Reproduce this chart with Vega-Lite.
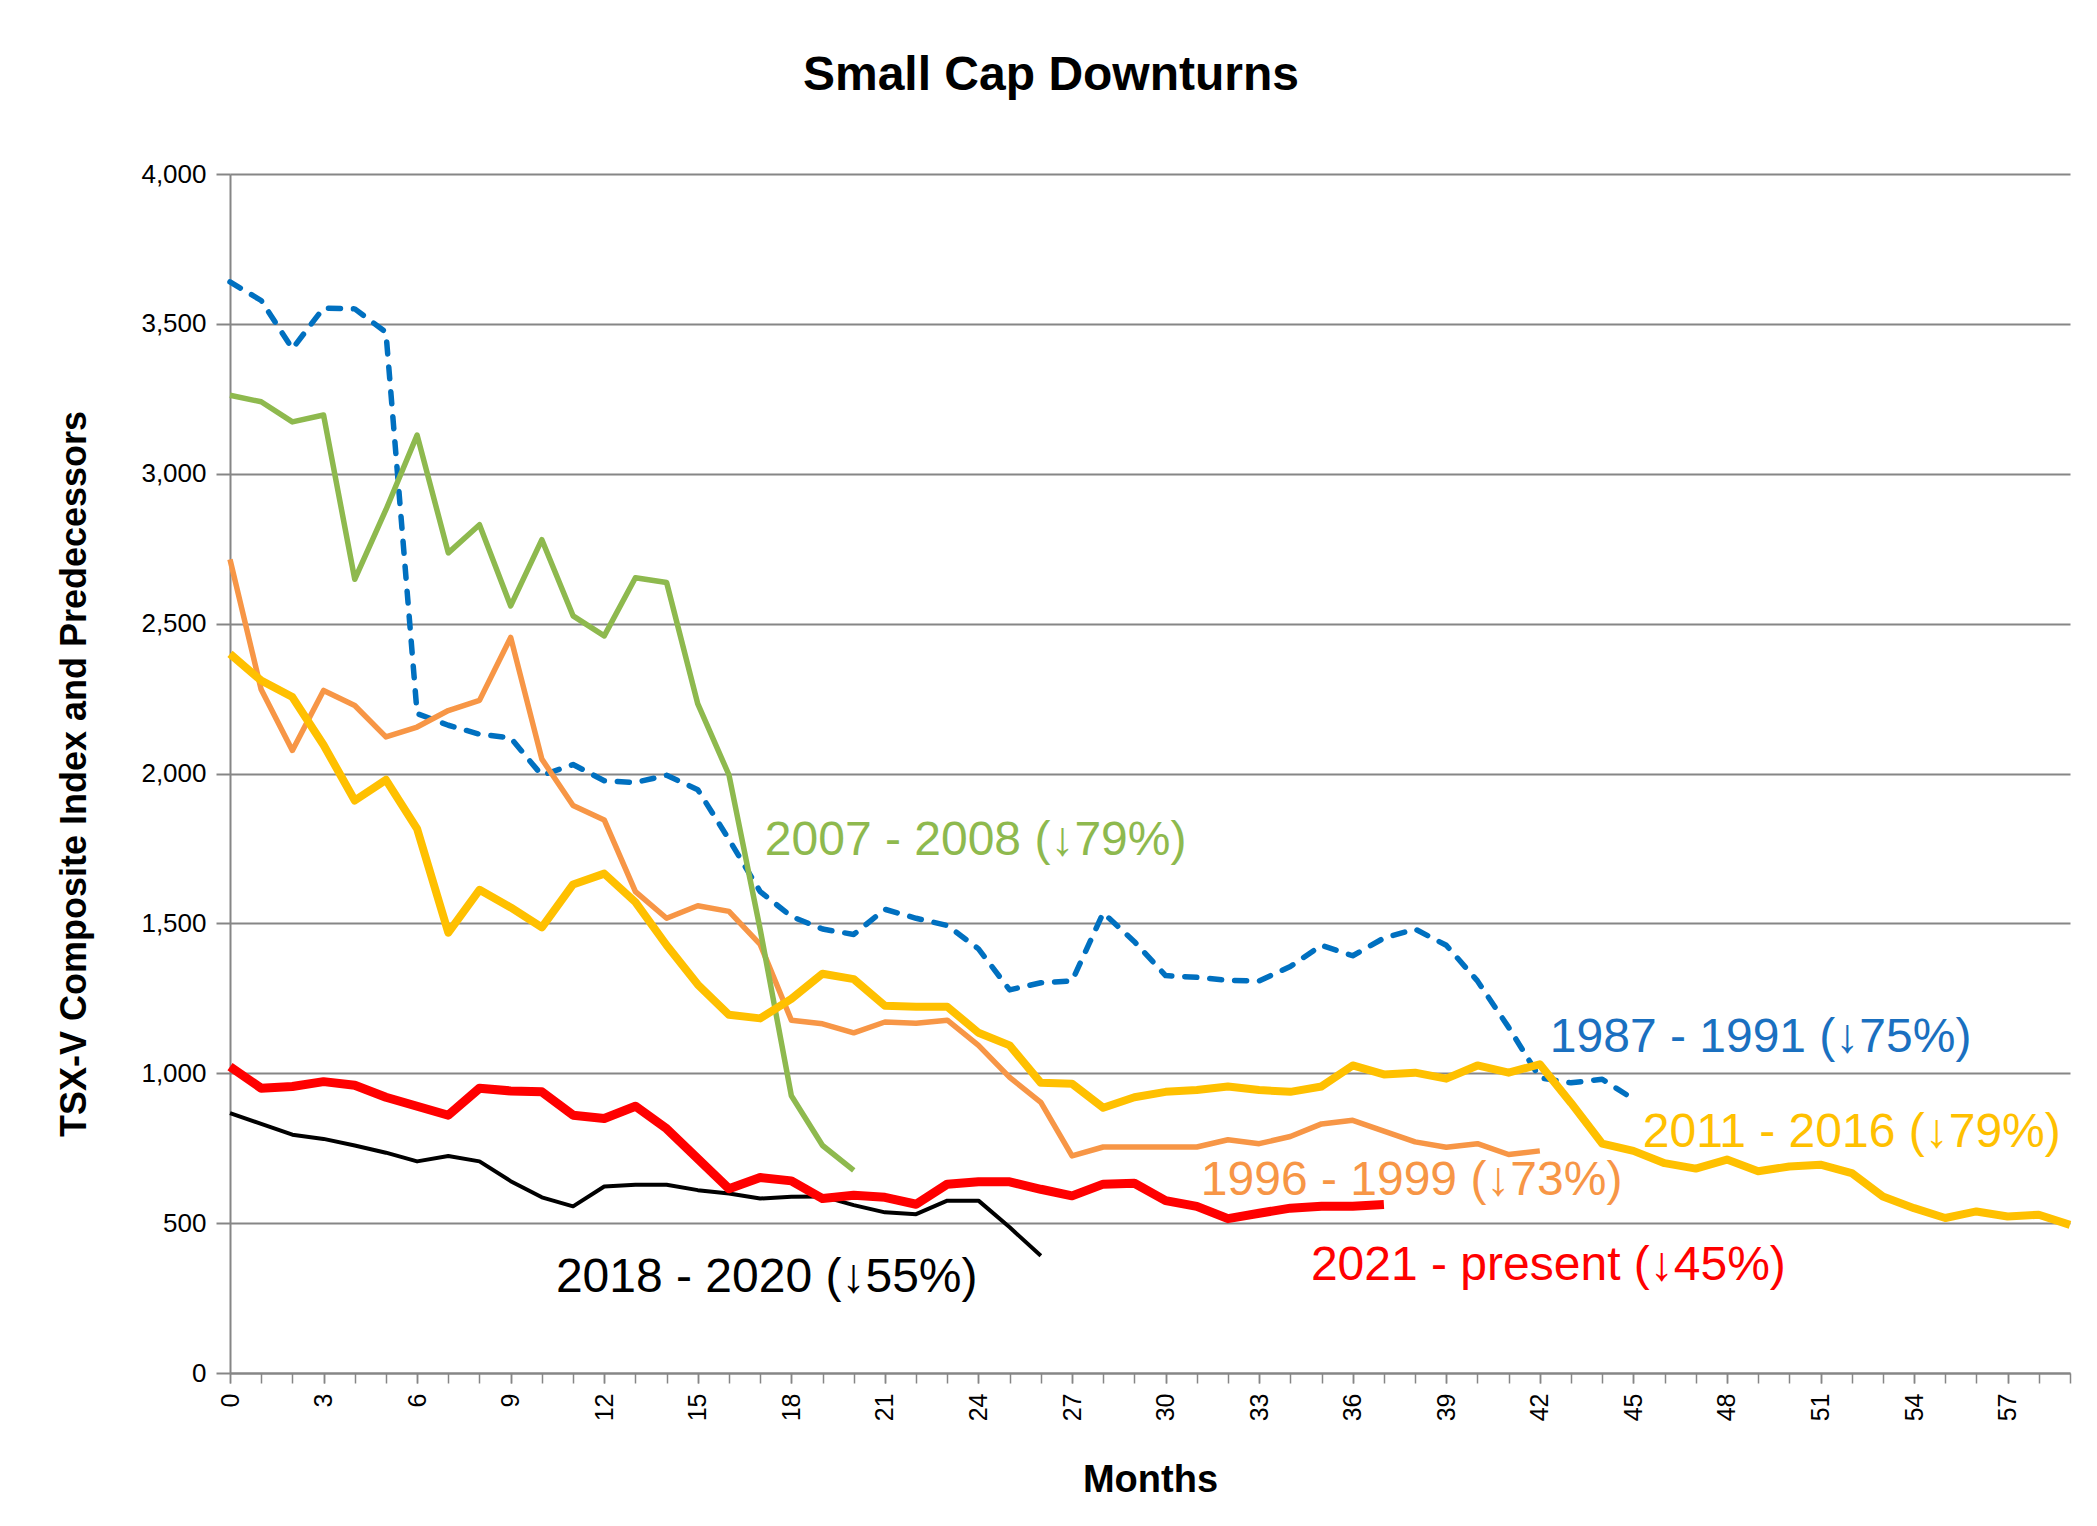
{
  "$schema": "https://vega.github.io/schema/vega-lite/v6.json",
  "width": 1840,
  "height": 1199,
  "autosize": {"type": "none"},
  "padding": {"left": 230, "top": 174, "right": 27, "bottom": 153},
  "background": "#ffffff",
  "config": {"view": {"stroke": null}, "font": "Liberation Sans"},
  "title": {"text": "Small Cap Downturns", "fontSize": 48, "font": "Liberation Sans", "fontWeight": "bold", "color": "#000000", "anchor": "middle", "dx": -99, "offset": 23, "baseline": "alphabetic"},
  "resolve": {"axis": {"x": "independent"}},
  "datasets": {
    "s1987": [
      {"month": 0, "value": 3640}, {"month": 1, "value": 3578}, {"month": 2, "value": 3417}, {"month": 3, "value": 3553}, {"month": 4, "value": 3550}, {"month": 5, "value": 3472}, {"month": 6, "value": 2200}, {"month": 7, "value": 2161}, {"month": 8, "value": 2131}, {"month": 9, "value": 2119}, {"month": 10, "value": 1994}, {"month": 11, "value": 2030}, {"month": 12, "value": 1976}, {"month": 13, "value": 1970}, {"month": 14, "value": 1994}, {"month": 15, "value": 1946}, {"month": 16, "value": 1780}, {"month": 17, "value": 1606}, {"month": 18, "value": 1523}, {"month": 19, "value": 1481}, {"month": 20, "value": 1463}, {"month": 21, "value": 1547}, {"month": 22, "value": 1517}, {"month": 23, "value": 1493}, {"month": 24, "value": 1415}, {"month": 25, "value": 1278}, {"month": 26, "value": 1302}, {"month": 27, "value": 1308}, {"month": 28, "value": 1535}, {"month": 29, "value": 1439}, {"month": 30, "value": 1326}, {"month": 31, "value": 1320}, {"month": 32, "value": 1310}, {"month": 33, "value": 1308}, {"month": 34, "value": 1356}, {"month": 35, "value": 1427}, {"month": 36, "value": 1392}, {"month": 37, "value": 1451}, {"month": 38, "value": 1481}, {"month": 39, "value": 1427}, {"month": 40, "value": 1308}, {"month": 41, "value": 1153}, {"month": 42, "value": 985}, {"month": 43, "value": 968}, {"month": 44, "value": 980}, {"month": 45, "value": 914}
    ],
    "s1996": [
      {"month": 0, "value": 2714}, {"month": 1, "value": 2280}, {"month": 2, "value": 2077}, {"month": 3, "value": 2277}, {"month": 4, "value": 2227}, {"month": 5, "value": 2122}, {"month": 6, "value": 2155}, {"month": 7, "value": 2210}, {"month": 8, "value": 2244}, {"month": 9, "value": 2454}, {"month": 10, "value": 2048}, {"month": 11, "value": 1893}, {"month": 12, "value": 1845}, {"month": 13, "value": 1606}, {"month": 14, "value": 1517}, {"month": 15, "value": 1559}, {"month": 16, "value": 1540}, {"month": 17, "value": 1430}, {"month": 18, "value": 1177}, {"month": 19, "value": 1165}, {"month": 20, "value": 1135}, {"month": 21, "value": 1171}, {"month": 22, "value": 1167}, {"month": 23, "value": 1177}, {"month": 24, "value": 1093}, {"month": 25, "value": 986}, {"month": 26, "value": 903}, {"month": 27, "value": 724}, {"month": 28, "value": 754}, {"month": 29, "value": 754}, {"month": 30, "value": 754}, {"month": 31, "value": 754}, {"month": 32, "value": 778}, {"month": 33, "value": 765}, {"month": 34, "value": 789}, {"month": 35, "value": 831}, {"month": 36, "value": 843}, {"month": 37, "value": 807}, {"month": 38, "value": 771}, {"month": 39, "value": 753}, {"month": 40, "value": 765}, {"month": 41, "value": 729}, {"month": 42, "value": 741}
    ],
    "s2007": [
      {"month": 0, "value": 3262}, {"month": 1, "value": 3240}, {"month": 2, "value": 3173}, {"month": 3, "value": 3196}, {"month": 4, "value": 2648}, {"month": 5, "value": 2880}, {"month": 6, "value": 3129}, {"month": 7, "value": 2736}, {"month": 8, "value": 2830}, {"month": 9, "value": 2559}, {"month": 10, "value": 2780}, {"month": 11, "value": 2526}, {"month": 12, "value": 2459}, {"month": 13, "value": 2653}, {"month": 14, "value": 2637}, {"month": 15, "value": 2232}, {"month": 16, "value": 1995}, {"month": 17, "value": 1480}, {"month": 18, "value": 925}, {"month": 19, "value": 759}, {"month": 20, "value": 676}
    ],
    "s2011": [
      {"month": 0, "value": 2399}, {"month": 1, "value": 2310}, {"month": 2, "value": 2255}, {"month": 3, "value": 2095}, {"month": 4, "value": 1910}, {"month": 5, "value": 1979}, {"month": 6, "value": 1815}, {"month": 7, "value": 1469}, {"month": 8, "value": 1612}, {"month": 9, "value": 1553}, {"month": 10, "value": 1487}, {"month": 11, "value": 1630}, {"month": 12, "value": 1666}, {"month": 13, "value": 1571}, {"month": 14, "value": 1427}, {"month": 15, "value": 1296}, {"month": 16, "value": 1195}, {"month": 17, "value": 1183}, {"month": 18, "value": 1248}, {"month": 19, "value": 1332}, {"month": 20, "value": 1314}, {"month": 21, "value": 1225}, {"month": 22, "value": 1222}, {"month": 23, "value": 1222}, {"month": 24, "value": 1135}, {"month": 25, "value": 1093}, {"month": 26, "value": 968}, {"month": 27, "value": 965}, {"month": 28, "value": 885}, {"month": 29, "value": 920}, {"month": 30, "value": 938}, {"month": 31, "value": 944}, {"month": 32, "value": 956}, {"month": 33, "value": 944}, {"month": 34, "value": 938}, {"month": 35, "value": 956}, {"month": 36, "value": 1026}, {"month": 37, "value": 996}, {"month": 38, "value": 1002}, {"month": 39, "value": 982}, {"month": 40, "value": 1026}, {"month": 41, "value": 1002}, {"month": 42, "value": 1030}, {"month": 43, "value": 901}, {"month": 44, "value": 765}, {"month": 45, "value": 741}, {"month": 46, "value": 700}, {"month": 47, "value": 682}, {"month": 48, "value": 712}, {"month": 49, "value": 673}, {"month": 50, "value": 689}, {"month": 51, "value": 695}, {"month": 52, "value": 667}, {"month": 53, "value": 589}, {"month": 54, "value": 550}, {"month": 55, "value": 517}, {"month": 56, "value": 539}, {"month": 57, "value": 522}, {"month": 58, "value": 528}, {"month": 59, "value": 494}
    ],
    "s2018": [
      {"month": 0, "value": 867}, {"month": 1, "value": 831}, {"month": 2, "value": 795}, {"month": 3, "value": 781}, {"month": 4, "value": 759}, {"month": 5, "value": 735}, {"month": 6, "value": 706}, {"month": 7, "value": 724}, {"month": 8, "value": 706}, {"month": 9, "value": 640}, {"month": 10, "value": 586}, {"month": 11, "value": 556}, {"month": 12, "value": 622}, {"month": 13, "value": 628}, {"month": 14, "value": 628}, {"month": 15, "value": 610}, {"month": 16, "value": 599}, {"month": 17, "value": 582}, {"month": 18, "value": 588}, {"month": 19, "value": 589}, {"month": 20, "value": 560}, {"month": 21, "value": 536}, {"month": 22, "value": 530}, {"month": 23, "value": 575}, {"month": 24, "value": 575}, {"month": 25, "value": 486}, {"month": 26, "value": 391}
    ],
    "s2021": [
      {"month": 0, "value": 1022}, {"month": 1, "value": 950}, {"month": 2, "value": 956}, {"month": 3, "value": 972}, {"month": 4, "value": 960}, {"month": 5, "value": 920}, {"month": 6, "value": 890}, {"month": 7, "value": 860}, {"month": 8, "value": 950}, {"month": 9, "value": 941}, {"month": 10, "value": 938}, {"month": 11, "value": 860}, {"month": 12, "value": 849}, {"month": 13, "value": 890}, {"month": 14, "value": 815}, {"month": 15, "value": 715}, {"month": 16, "value": 615}, {"month": 17, "value": 652}, {"month": 18, "value": 641}, {"month": 19, "value": 582}, {"month": 20, "value": 593}, {"month": 21, "value": 586}, {"month": 22, "value": 563}, {"month": 23, "value": 630}, {"month": 24, "value": 638}, {"month": 25, "value": 638}, {"month": 26, "value": 613}, {"month": 27, "value": 591}, {"month": 28, "value": 630}, {"month": 29, "value": 633}, {"month": 30, "value": 575}, {"month": 31, "value": 556}, {"month": 32, "value": 515}, {"month": 33, "value": 533}, {"month": 34, "value": 550}, {"month": 35, "value": 556}, {"month": 36, "value": 556}, {"month": 37, "value": 562}
    ]
  },
  "layer": [
    {
      "data": {"name": "s1987"},
      "mark": {"type": "line", "color": "#0070C0", "strokeWidth": 5.5, "strokeDash": [12, 13], "strokeCap": "round", "strokeJoin": "round"},
      "encoding": {
        "x": {"field": "month", "type": "quantitative", "scale": {"domain": [0, 59], "nice": false, "zero": false},
          "axis": {"orient": "bottom", "title": "Months", "titleFontSize": 38, "titleFontWeight": "bold", "titleColor": "#000000", "titlePadding": 41,
            "values": [0, 3, 6, 9, 12, 15, 18, 21, 24, 27, 30, 33, 36, 39, 42, 45, 48, 51, 54, 57],
            "labelAngle": -90, "labelFontSize": 25, "labelColor": "#000000", "labelPadding": 10,
            "labelOverlap": false, "labelFlush": false, "tickSize": 10, "tickColor": "#868686", "tickWidth": 1.5, "domainColor": "#868686", "domainWidth": 2, "grid": false}},
        "y": {"field": "value", "type": "quantitative", "scale": {"domain": [0, 4000], "nice": false},
          "axis": {"title": "TSX-V Composite Index and Predecessors", "titleFontSize": 36, "titleFontWeight": "bold", "titleColor": "#000000", "titlePadding": 47,
            "values": [0, 500, 1000, 1500, 2000, 2500, 3000, 3500, 4000], "format": ",.0f", "labelFontSize": 26, "labelColor": "#000000", "labelPadding": 10,
            "tickSize": 14, "tickColor": "#868686", "tickWidth": 2, "domainColor": "#868686", "domainWidth": 2, "gridColor": "#868686", "gridWidth": 2}}
      }
    },
    {
      "data": {"name": "s1996"},
      "mark": {"type": "line", "color": "#F79646", "strokeWidth": 5.5, "strokeJoin": "round"},
      "encoding": {
        "x": {"field": "month", "type": "quantitative",
          "axis": {"orient": "bottom", "title": null, "labels": false, "domain": false, "grid": false,
            "values": [0,1,2,3,4,5,6,7,8,9,10,11,12,13,14,15,16,17,18,19,20,21,22,23,24,25,26,27,28,29,30,31,32,33,34,35,36,37,38,39,40,41,42,43,44,45,46,47,48,49,50,51,52,53,54,55,56,57,58,59],
            "tickSize": 10, "tickColor": "#868686", "tickWidth": 1.5}},
        "y": {"field": "value", "type": "quantitative"}}
    },
    {
      "data": {"name": "s2007"},
      "mark": {"type": "line", "color": "#8EB94E", "strokeWidth": 5.5, "strokeJoin": "round"},
      "encoding": {"x": {"field": "month", "type": "quantitative", "axis": null}, "y": {"field": "value", "type": "quantitative"}}
    },
    {
      "data": {"name": "s2011"},
      "mark": {"type": "line", "color": "#FFC000", "strokeWidth": 8, "strokeJoin": "round"},
      "encoding": {"x": {"field": "month", "type": "quantitative", "axis": null}, "y": {"field": "value", "type": "quantitative"}}
    },
    {
      "data": {"name": "s2018"},
      "mark": {"type": "line", "color": "#000000", "strokeWidth": 4, "strokeJoin": "round"},
      "encoding": {"x": {"field": "month", "type": "quantitative", "axis": null}, "y": {"field": "value", "type": "quantitative"}}
    },
    {
      "data": {"name": "s2021"},
      "mark": {"type": "line", "color": "#FF0000", "strokeWidth": 9, "strokeJoin": "round"},
      "encoding": {"x": {"field": "month", "type": "quantitative", "axis": null}, "y": {"field": "value", "type": "quantitative"}}
    },
    {
      "data": {"values": [{"label": "2007 - 2008 (↓79%)"}]},
      "mark": {"type": "text", "align": "left", "baseline": "alphabetic", "fontSize": 48, "color": "#8EB94E"},
      "encoding": {"text": {"field": "label"}, "x": {"datum": 17.15, "type": "quantitative", "axis": null}, "y": {"datum": 1728, "type": "quantitative"}}
    },
    {
      "data": {"values": [{"label": "1987 - 1991 (↓75%)"}]},
      "mark": {"type": "text", "align": "left", "baseline": "alphabetic", "fontSize": 48, "color": "#1A70C0"},
      "encoding": {"text": {"field": "label"}, "x": {"datum": 42.32, "type": "quantitative", "axis": null}, "y": {"datum": 1071, "type": "quantitative"}}
    },
    {
      "data": {"values": [{"label": "2011 - 2016 (↓79%)"}]},
      "mark": {"type": "text", "align": "left", "baseline": "alphabetic", "fontSize": 48, "color": "#FFC000"},
      "encoding": {"text": {"field": "label"}, "x": {"datum": 45.3, "type": "quantitative", "axis": null}, "y": {"datum": 754, "type": "quantitative"}}
    },
    {
      "data": {"values": [{"label": "1996 - 1999 (↓73%)"}]},
      "mark": {"type": "text", "align": "left", "baseline": "alphabetic", "fontSize": 48, "color": "#F79646"},
      "encoding": {"text": {"field": "label"}, "x": {"datum": 31.13, "type": "quantitative", "axis": null}, "y": {"datum": 595, "type": "quantitative"}}
    },
    {
      "data": {"values": [{"label": "2021 - present (↓45%)"}]},
      "mark": {"type": "text", "align": "left", "baseline": "alphabetic", "fontSize": 48, "color": "#FF0000"},
      "encoding": {"text": {"field": "label"}, "x": {"datum": 34.66, "type": "quantitative", "axis": null}, "y": {"datum": 310, "type": "quantitative"}}
    },
    {
      "data": {"values": [{"label": "2018 - 2020 (↓55%)"}]},
      "mark": {"type": "text", "align": "left", "baseline": "alphabetic", "fontSize": 48, "color": "#000000"},
      "encoding": {"text": {"field": "label"}, "x": {"datum": 10.45, "type": "quantitative", "axis": null}, "y": {"datum": 270, "type": "quantitative"}}
    }
  ]
}
